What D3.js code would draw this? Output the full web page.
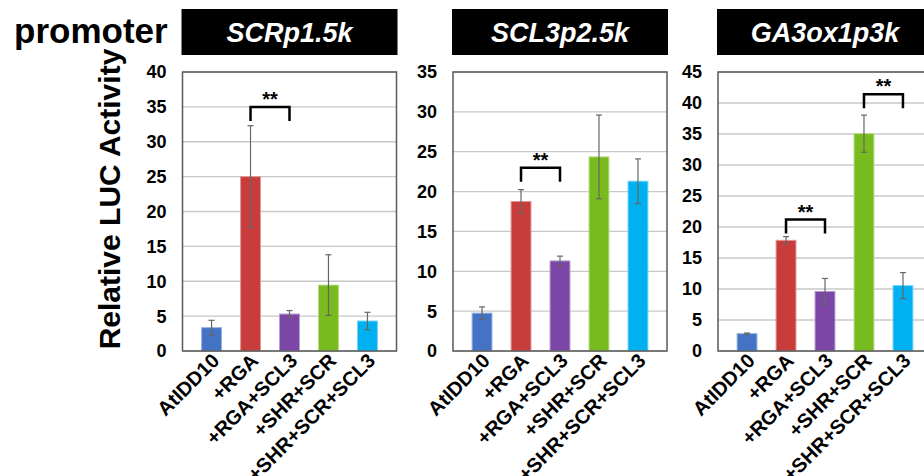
<!DOCTYPE html>
<html>
<head>
<meta charset="utf-8">
<script src="https://cdn.jsdelivr.net/npm/d3@7.9.0/dist/d3.min.js"></script>
<style>
  body { margin: 0; background: #fff; }
  svg { display: block; font-family: "Liberation Sans", Arial, sans-serif; }
</style>
</head>
<body>
<svg id="chart" width="924" height="476"></svg>
<script>
// categories and promoters
const categories = ["AtIDD10", "+RGA", "+RGA+SCL3", "+SHR+SCR", "+SHR+SCR+SCL3"];
const promoters = ["SCRp1.5k", "SCL3p2.5k", "GA3ox1p3k"];
const barColors = ["#4472C4", "#C83C3C", "#7B46A6", "#78BB1E", "#00B0F0"];

// values (mean and error)
const scrMeans = [3.35, 25.0, 5.3, 9.45, 4.3];
const scrErr = [1.05, 7.3, 0.5, 4.35, 1.25];
const scl3Means = [4.75, 18.75, 11.3, 24.35, 21.3];
const scl3Err = [0.78, 1.5, 0.6, 5.25, 2.8];
const ga3Means = [2.8, 17.85, 9.6, 35.05, 10.55];
const ga3Err = [0.1, 0.6, 2.1, 3.0, 2.1];

// y axis maxima and ticks
const yMax = [40, 35, 45];
const yStep = 5;

// significance brackets: [from, to, level]
const scrSig = [[1, 2, 35]];
const scl3Sig = [[1, 2, 23]];
const ga3Sig = [[1, 2, 21.2], [3, 4, 41.4]];

const panels = [
  { title: promoters[0], means: scrMeans, err: scrErr, max: yMax[0], sig: scrSig, left: 182.5 },
  { title: promoters[1], means: scl3Means, err: scl3Err, max: yMax[1], sig: scl3Sig, left: 453 },
  { title: promoters[2], means: ga3Means, err: ga3Err, max: yMax[2], sig: ga3Sig, left: 718 }
];

const svg = d3.select("#chart");
const plotTop = 72, plotBottom = 351, pw = 214;

svg.append("text")
  .attr("x", 14).attr("y", 43)
  .attr("font-size", 35).attr("font-weight", "bold")
  .text("promoter");

svg.append("text")
  .attr("transform", "translate(120,199) rotate(-90)")
  .attr("text-anchor", "middle")
  .attr("font-size", 30).attr("font-weight", "bold")
  .text("Relative LUC Activity");

panels.forEach(p => {
  const g = svg.append("g");
  const x = d3.scaleBand().domain(categories).range([p.left, p.left + pw]).padding(0.49);
  const y = d3.scaleLinear().domain([0, p.max]).range([plotBottom, plotTop]);
  const ticks = d3.range(0, p.max + 1, yStep);

  // title box
  g.append("rect")
    .attr("x", p.left - 1).attr("y", 9)
    .attr("width", pw + 2).attr("height", 46)
    .attr("fill", "#000");
  g.append("text")
    .attr("x", p.left + pw / 2).attr("y", 42)
    .attr("text-anchor", "middle")
    .attr("fill", "#fff")
    .attr("font-size", 27).attr("font-weight", "bold").attr("font-style", "italic")
    .text(p.title);

  // gridlines
  g.selectAll(".grid").data(ticks).join("line")
    .attr("x1", p.left).attr("x2", p.left + pw)
    .attr("y1", d => y(d)).attr("y2", d => y(d))
    .attr("stroke", "#c8c8c8").attr("stroke-width", 1.3);

  // y axis tick labels
  g.selectAll(".tick").data(ticks).join("text")
    .attr("x", p.left - 16).attr("y", d => y(d))
    .attr("dy", "0.36em")
    .attr("text-anchor", "end")
    .attr("font-size", 18).attr("font-weight", "bold")
    .text(d => d);

  // bars
  g.selectAll(".bar").data(p.means).join("rect")
    .attr("x", (d, i) => x(categories[i]))
    .attr("y", d => y(d))
    .attr("width", x.bandwidth())
    .attr("height", d => y(0) - y(d))
    .attr("fill", (d, i) => barColors[i])
    .attr("stroke", (d, i) => d3.interpolateRgb(barColors[i], "#fff")(0.45))
    .attr("stroke-width", 1);

  // error bars
  const eb = g.selectAll(".err").data(p.means).join("g")
    .attr("stroke", "#666").attr("stroke-width", 1.2);
  eb.append("line")
    .attr("x1", (d, i) => x(categories[i]) + x.bandwidth() / 2)
    .attr("x2", (d, i) => x(categories[i]) + x.bandwidth() / 2)
    .attr("y1", (d, i) => y(d + p.err[i]))
    .attr("y2", (d, i) => y(d - p.err[i]));
  [1, -1].forEach(s => {
    eb.append("line")
      .attr("x1", (d, i) => x(categories[i]) + x.bandwidth() / 2 - 3)
      .attr("x2", (d, i) => x(categories[i]) + x.bandwidth() / 2 + 3)
      .attr("y1", (d, i) => y(d + s * p.err[i]))
      .attr("y2", (d, i) => y(d + s * p.err[i]));
  });

  // frame
  g.append("rect")
    .attr("x", p.left).attr("y", plotTop)
    .attr("width", pw).attr("height", plotBottom - plotTop)
    .attr("fill", "none").attr("stroke", "#5a5a5a").attr("stroke-width", 1.5);

  // x labels
  g.selectAll(".xl").data(categories).join("text")
    .attr("transform", d => `translate(${x(d) + x.bandwidth() / 2 + 9},${plotBottom + 11}) rotate(-45)`)
    .attr("text-anchor", "end")
    .attr("font-size", 20).attr("font-weight", "bold")
    .text(d => d);

  // significance brackets
  p.sig.forEach(([a, b, lvl]) => {
    const x1 = x(categories[a]) + x.bandwidth() / 2;
    const x2 = x(categories[b]) + x.bandwidth() / 2;
    const yy = y(lvl);
    g.append("path")
      .attr("d", `M${x1},${yy + 14}V${yy}H${x2}V${yy + 14}`)
      .attr("fill", "none").attr("stroke", "#000").attr("stroke-width", 2.5);
    g.append("text")
      .attr("x", (x1 + x2) / 2).attr("y", yy - 1)
      .attr("text-anchor", "middle")
      .attr("font-size", 20).attr("font-weight", "bold")
      .text("**");
  });
});
</script>
</body>
</html>
